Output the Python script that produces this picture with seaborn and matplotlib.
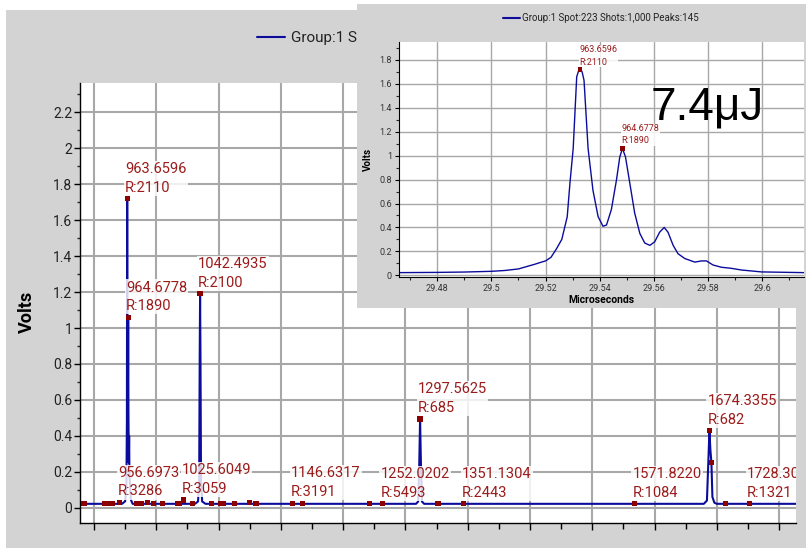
import matplotlib
matplotlib.use('Agg')
import matplotlib.pyplot as plt
from matplotlib.patches import Rectangle
from matplotlib.lines import Line2D
from matplotlib.ticker import MultipleLocator
import seaborn as sns

sns.set_style('white')
plt.rcParams['font.family'] = ['Roboto', 'DejaVu Sans']

W, H = 806, 548
GRAY = '#d3d3d3'
LINE = '#0c0c9c'
MARK = '#8b0000'
TXT = '#9b1b1b'
GRID = '#a8a8a8'

legend_text = 'Group:1 Spot:223 Shots:1,000 Peaks:145'
energy_text = '7.4\u03bcJ'

# --- main spectrum trace (microseconds, volts) ---
main_t = [28.775, 29.45, 29.50, 29.52, 29.528, 29.5302, 29.5328, 29.5357, 29.5412, 29.5462,
          29.5484, 29.5529, 29.5585, 29.5638, 29.5689, 29.5794, 29.5923, 29.62,
          30.62, 30.67, 30.688, 30.697, 30.703, 30.709, 30.718, 30.736, 30.79,
          34.17, 34.205, 34.222, 34.235, 34.248, 34.265, 34.30,
          38.79, 38.84, 38.862, 38.88, 38.896, 38.912, 38.928, 38.96, 39.0, 40.28]
main_v = [0.022, 0.022, 0.036, 0.12, 0.49, 1.06, 1.725, 1.06, 0.41, 0.80,
          1.06, 0.52, 0.25, 0.40, 0.18, 0.12, 0.044, 0.022,
          0.022, 0.035, 0.15, 0.85, 1.19, 0.85, 0.15, 0.035, 0.022,
          0.022, 0.035, 0.25, 0.494, 0.25, 0.035, 0.022,
          0.022, 0.04, 0.25, 0.428, 0.32, 0.252, 0.06, 0.028, 0.022, 0.022]

# picked peaks (square markers)
peak_t = [28.840, 29.176, 29.271, 29.303, 29.415, 29.533, 29.548, 29.686, 29.734, 29.766,
          29.862, 29.958, 30.101, 30.341, 30.373, 30.441, 30.580, 30.703, 30.883, 31.027,
          31.075, 31.251, 31.490, 31.602, 32.193, 32.352, 33.421, 33.629, 34.235, 34.523,
          34.938, 37.678, 38.880, 38.912, 39.135, 39.518]
peak_v = [0.022, 0.022, 0.024, 0.022, 0.030, 1.72, 1.06, 0.025, 0.022, 0.022,
          0.030, 0.022, 0.022, 0.024, 0.024, 0.043, 0.024, 1.19, 0.022, 0.022,
          0.026, 0.022, 0.030, 0.022, 0.026, 0.022, 0.022, 0.022, 0.494, 0.022,
          0.022, 0.022, 0.428, 0.252, 0.022, 0.022]

# labelled peaks
label_mass = ['963.6596', '964.6778', '1042.4935', '956.6973', '1025.6049', '1146.6317',
              '1252.0202', '1297.5625', '1351.1304', '1571.8220', '1674.3355', '1728.3046']
label_res = ['R:2110', 'R:1890', 'R:2100', 'R:3286', 'R:3059', 'R:3191',
             'R:5493', 'R:685', 'R:2443', 'R:1084', 'R:682', 'R:1321']
label_t = [29.533, 29.548, 30.703, 29.415, 30.441, 32.193, 33.629, 34.235, 34.938, 37.678, 38.880, 39.518]
label_v = [1.72, 1.06, 1.19, 0.030, 0.043, 0.026, 0.022, 0.494, 0.022, 0.022, 0.428, 0.022]

# --- inset: zoom on first cluster ---
inset_t = [29.466, 29.480, 29.490, 29.500, 29.505, 29.510, 29.516, 29.5185, 29.520, 29.522, 29.524,
           29.526, 29.528, 29.529, 29.5302, 29.5315, 29.5322, 29.5328, 29.5335, 29.5342, 29.5357,
           29.5375, 29.5394, 29.5412, 29.5425, 29.5443, 29.5462, 29.5474, 29.5484, 29.5495, 29.5511,
           29.5529, 29.5548, 29.5566, 29.5585, 29.5603, 29.5621, 29.5638, 29.5652, 29.5671, 29.5689,
           29.5714, 29.5751, 29.5776, 29.5794, 29.5818, 29.5849, 29.5886, 29.5923, 29.5997, 29.6154]
inset_v = [0.022, 0.024, 0.027, 0.033, 0.040, 0.053, 0.092, 0.11, 0.12, 0.15, 0.22,
           0.30, 0.49, 0.77, 1.06, 1.66, 1.71, 1.725, 1.70, 1.63, 1.06,
           0.71, 0.49, 0.41, 0.42, 0.55, 0.80, 0.99, 1.06, 0.99, 0.77,
           0.52, 0.35, 0.27, 0.25, 0.28, 0.36, 0.40, 0.36, 0.25, 0.18,
           0.14, 0.11, 0.12, 0.12, 0.086, 0.067, 0.058, 0.044, 0.028, 0.022]
inset_peak_t = [29.5328, 29.5484]
inset_peak_v = [1.72, 1.06]
inset_mass = ['963.6596', '964.6778']
inset_res = ['R:2110', 'R:1890']

fig = plt.figure(figsize=(W / 100, H / 100), dpi=100)
fig.patch.set_facecolor('white')
fig.add_artist(Rectangle((6 / W, 0), 1, 1 - 10 / H, transform=fig.transFigure,
                         facecolor=GRAY, edgecolor='none', zorder=-1))

# ---------------- main axes ----------------
ax = fig.add_axes([80 / W, 1 - 522.7 / H, 716 / W, 440 / H])
sns.lineplot(x=main_t, y=main_v, ax=ax, color=LINE, lw=1.5, estimator=None, sort=False)
sns.scatterplot(x=peak_t, y=peak_v, ax=ax, marker='s', s=14, color=MARK,
                edgecolor='none', zorder=4)

ax.set_xlim(28.775, 40.27)
ax.set_ylim(-0.083, 2.365)
ax.xaxis.set_major_locator(MultipleLocator(1))
ax.xaxis.set_minor_locator(MultipleLocator(0.5))
ax.yaxis.set_major_locator(MultipleLocator(0.2))
ax.yaxis.set_minor_locator(MultipleLocator(0.1))
ax.grid(True, which='major', color=GRID, lw=1.5)
ax.set_axisbelow(True)
for s in ['top', 'right']:
    ax.spines[s].set_visible(False)
for s in ['left', 'bottom']:
    ax.spines[s].set_color('black')
    ax.spines[s].set_linewidth(1)
ax.tick_params(axis='x', which='both', bottom=True, labelbottom=False, direction='out',
               length=5, width=1, color='black')
ax.tick_params(axis='x', which='minor', length=4)
ax.tick_params(axis='y', which='major', left=True, direction='out', length=4, width=1,
               pad=1.5, labelsize=10, labelcolor='#222222', color='black')
ax.tick_params(axis='y', which='minor', left=True, direction='out', length=2.5, width=1)
ax.yaxis.set_major_formatter(matplotlib.ticker.FuncFormatter(lambda v, p: f'{v:g}'))
ax.set_xlabel('')
ax.set_ylabel('Volts', fontsize=13, fontweight='bold', color='black')
ax.yaxis.set_label_coords(-0.061, 0.48)

for m, r, t, v in zip(label_mass, label_res, label_t, label_v):
    a = ax.annotate(m + '\n' + r, xy=(t, v), xytext=(-2, 4), textcoords='offset pixels',
                    ha='left', va='bottom', fontsize=10.5, color=TXT, linespacing=1.42,
                    bbox=dict(boxstyle='square,pad=0.08', facecolor='white', alpha=0.82,
                              edgecolor='none'), zorder=5)
    a.set_clip_on(True)
    a.set_clip_box(ax.bbox)

ax.legend(handles=[Line2D([], [], color=LINE, lw=1.5)], labels=[legend_text],
          loc='center left', bbox_to_anchor=(257 / W, 1 - 38 / H), bbox_transform=fig.transFigure,
          frameon=False, fontsize=11, handlelength=1.85, handletextpad=0.35,
          borderpad=0, borderaxespad=0, labelcolor='#222222')

# ---------------- inset ----------------
fig.add_artist(Rectangle((357 / W, 1 - 308 / H), (806 - 357) / W, 304 / H, transform=fig.transFigure,
                         facecolor=GRAY, edgecolor='none', zorder=1.5))
iax = fig.add_axes([399 / W, 1 - 276.7 / H, (804 - 399) / W, 234.4 / H])
iax.set_zorder(2)
sns.lineplot(x=inset_t, y=inset_v, ax=iax, color=LINE, lw=1.0, estimator=None, sort=False)
sns.scatterplot(x=inset_peak_t, y=inset_peak_v, ax=iax, marker='s', s=9, color=MARK,
                edgecolor='none', zorder=4)
iax.set_xlim(29.4659, 29.6154)
iax.set_ylim(-0.012, 1.948)
iax.xaxis.set_major_locator(MultipleLocator(0.02))
iax.xaxis.set_minor_locator(MultipleLocator(0.01))
iax.yaxis.set_major_locator(MultipleLocator(0.2))
iax.yaxis.set_minor_locator(MultipleLocator(0.1))
iax.xaxis.set_major_formatter(matplotlib.ticker.FuncFormatter(lambda v, p: f'{v:g}'))
iax.yaxis.set_major_formatter(matplotlib.ticker.FuncFormatter(lambda v, p: f'{v:g}'))
iax.grid(True, which='major', color=GRID, lw=1.0)
iax.set_axisbelow(True)
for s in ['top', 'right']:
    iax.spines[s].set_visible(False)
for s in ['left', 'bottom']:
    iax.spines[s].set_color('black')
    iax.spines[s].set_linewidth(0.8)
iax.tick_params(axis='both', which='major', direction='out', length=3, width=0.8, pad=2,
                labelsize=6.5, labelcolor='#333333', color='black', left=True, bottom=True)
iax.tick_params(axis='both', which='minor', direction='out', length=2, width=0.8,
                left=True, bottom=True)
iax.set_xlabel('Microseconds', fontsize=7.5, fontweight='bold', color='black')
iax.xaxis.set_label_coords(0.5, -0.08)
iax.set_ylabel('Volts', fontsize=7, fontweight='bold', color='black')
iax.yaxis.set_label_coords(-0.064, 0.5)

for m, r, t, v in zip(inset_mass, inset_res, inset_peak_t, inset_peak_v):
    iax.annotate(m + '\n' + r, xy=(t, v), xytext=(-1, 3), textcoords='offset pixels',
                 ha='left', va='bottom', fontsize=6.5, color=TXT, linespacing=1.45,
                 bbox=dict(boxstyle='square,pad=0.08', facecolor='white', alpha=0.85,
                           edgecolor='none'), zorder=5)

iax.legend(handles=[Line2D([], [], color=LINE, lw=1.5)], labels=[legend_text],
           loc='center left', bbox_to_anchor=(503 / W, 1 - 18 / H), bbox_transform=fig.transFigure,
           frameon=False, fontsize=7, handlelength=1.75, handletextpad=0.25,
           borderpad=0, borderaxespad=0, labelcolor='#222222')

fig.text(707 / W, 1 - 107 / H, energy_text, fontsize=33, color='black',
         family=['Liberation Sans', 'DejaVu Sans'], ha='center', va='center', zorder=3)

fig.savefig('out.png', dpi=100, facecolor=fig.get_facecolor())
